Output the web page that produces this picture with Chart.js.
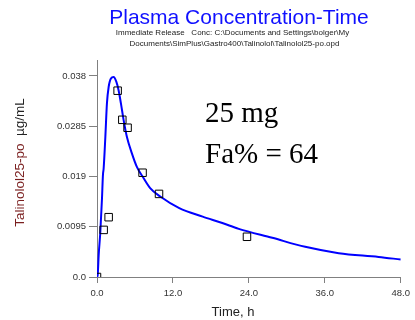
<!DOCTYPE html>
<html>
<head>
<meta charset="utf-8">
<title>Plasma Concentration-Time</title>
<script src="https://cdn.jsdelivr.net/npm/chart.js@4.4.1/dist/chart.umd.min.js"></script>
<style>
  html, body { margin: 0; padding: 0; background: #fff; }
  #chart { display: block; }
</style>
</head>
<body>
<canvas id="chart" width="415" height="320"></canvas>
<script>
// simulated plasma profile (h, µg/mL)
const simTime = [0, 0.11, 0.27, 0.53, 0.79, 0.94, 1.05, 1.32, 1.57, 1.84, 2.2, 2.63, 3.05, 3.41, 3.78, 4.2, 4.72, 5.5, 6.3, 7.35, 8.4, 10, 13, 16.7, 19.8, 22.4, 27.7, 32.9, 38.2, 44.5, 48];
const simConc = [0, 0.0004, 0.0042, 0.0086, 0.0149, 0.0193, 0.0205, 0.0265, 0.0328, 0.0359, 0.0375, 0.0378, 0.0369, 0.0353, 0.0328, 0.0297, 0.0265, 0.0234, 0.0208, 0.0187, 0.0168, 0.0152, 0.0130, 0.0114, 0.0102, 0.0091, 0.0074, 0.0057, 0.0045, 0.0038, 0.0033];

// observed concentrations
const obsTime = [0, 1.05, 1.84, 3.26, 4.0, 4.83, 7.2, 9.8, 23.7];
const obsConc = [0, 0.0089, 0.0113, 0.0352, 0.0297, 0.0282, 0.0197, 0.0157, 0.0076];

const xTicks = [0, 12, 24, 36, 48];
const xTickLabels = ['0.0', '12.0', '24.0', '36.0', '48.0'];
const yTicks = [0, 0.0095, 0.019, 0.0285, 0.038];
const yTickLabels = ['0.0', '0.0095', '0.019', '0.0285', '0.038'];

const titleText = 'Plasma Concentration-Time';
const subtitleLines = [
    'Immediate Release   Conc: C:\\Documents and Settings\\bolger\\My',
    'Documents\\SimPlus\\Gastro400\\Talinolol\\Talinolol25-po.opd'
];
const yTitleName = 'Talinolol25-po';
const yTitleUnit = '  µg/mL';
const xTitleText = 'Time, h';
const noteLines = ['25 mg', 'Fa% = 64'];

const toPoints = (xs, ys) => xs.map((x, i) => ({ x: x, y: ys[i] }));

// titles and annotations drawn straight on the canvas
const textPlugin = {
    id: 'texts',
    afterDraw(chart) {
        const ctx = chart.ctx;
        ctx.save();

        ctx.textAlign = 'center';
        ctx.textBaseline = 'alphabetic';
        ctx.fillStyle = '#1010ff';
        ctx.font = '21px Arial, "Liberation Sans", sans-serif';
        ctx.fillText(titleText, 239, 23.5);

        ctx.fillStyle = '#222';
        ctx.font = '8px Arial, "Liberation Sans", sans-serif';
        ctx.fillText(subtitleLines[0], 232.5, 35);
        ctx.fillText(subtitleLines[1], 234.5, 45.5);

        ctx.font = '13px Arial, "Liberation Sans", sans-serif';
        ctx.fillText(xTitleText, 233, 316);

        // y title, two colours, rotated
        ctx.translate(23.5, 162.5);
        ctx.rotate(-Math.PI / 2);
        ctx.font = '13.5px Arial, "Liberation Sans", sans-serif';
        const w1 = ctx.measureText(yTitleName).width;
        const w2 = ctx.measureText(yTitleUnit).width;
        const start = -(w1 + w2) / 2;
        ctx.textAlign = 'left';
        ctx.fillStyle = '#7a1f1f';
        ctx.fillText(yTitleName, start, 0);
        ctx.fillStyle = '#222';
        ctx.fillText(yTitleUnit, start + w1, 0);
        ctx.setTransform(1, 0, 0, 1, 0, 0);

        ctx.textAlign = 'left';
        ctx.fillStyle = '#000';
        ctx.font = '29px "Liberation Serif", "Times New Roman", serif';
        ctx.fillText(noteLines[0], 205, 122);
        ctx.fillText(noteLines[1], 205, 163);

        ctx.restore();
    }
};

const grafico = document.getElementById('chart');
const chart = new Chart(grafico, {
    type: 'scatter',
    data: {
        datasets: [{
            label: 'observed',
            data: toPoints(obsTime, obsConc),
            pointStyle: 'rect',
            pointRadius: 5.3,
            pointBackgroundColor: 'rgba(0,0,0,0)',
            pointBorderColor: '#000',
            pointBorderWidth: 1,
            showLine: false,
            order: 0
        }, {
            label: 'simulated',
            data: toPoints(simTime, simConc),
            showLine: true,
            borderColor: '#0000ff',
            borderWidth: 2,
            pointRadius: 0,
            cubicInterpolationMode: 'monotone',
            order: 1
        }]
    },
    options: {
        responsive: false,
        animation: false,
        devicePixelRatio: 1,
        layout: { padding: { top: 60, right: 12, left: 0, bottom: 0 } },
        plugins: {
            legend: { display: false },
            tooltip: { enabled: false }
        },
        scales: {
            x: {
                type: 'linear',
                min: 0,
                max: 48,
                afterBuildTicks: scale => { scale.ticks = xTicks.map(v => ({ value: v })); },
                afterFit: scale => { scale.height = 43; },
                ticks: {
                    callback: (v, i) => xTickLabels[i],
                    color: '#333',
                    font: { family: 'Arial, "Liberation Sans", sans-serif', size: 9.5 },
                    padding: 5,
                    maxRotation: 0
                },
                grid: { drawOnChartArea: false, drawTicks: true, tickLength: 6, color: '#808080' },
                border: { display: true, color: '#808080', width: 1 }
            },
            y: {
                type: 'linear',
                min: 0,
                max: 0.041,
                afterBuildTicks: scale => { scale.ticks = yTicks.map(v => ({ value: v })); },
                afterFit: scale => { scale.width = 97; },
                ticks: {
                    callback: (v, i) => yTickLabels[i],
                    color: '#333',
                    font: { family: 'Arial, "Liberation Sans", sans-serif', size: 9.5 },
                    padding: 3
                },
                grid: { drawOnChartArea: false, drawTicks: true, tickLength: 8, color: '#808080' },
                border: { display: true, color: '#808080', width: 1 }
            }
        }
    },
    plugins: [textPlugin]
});
</script>
</body>
</html>
